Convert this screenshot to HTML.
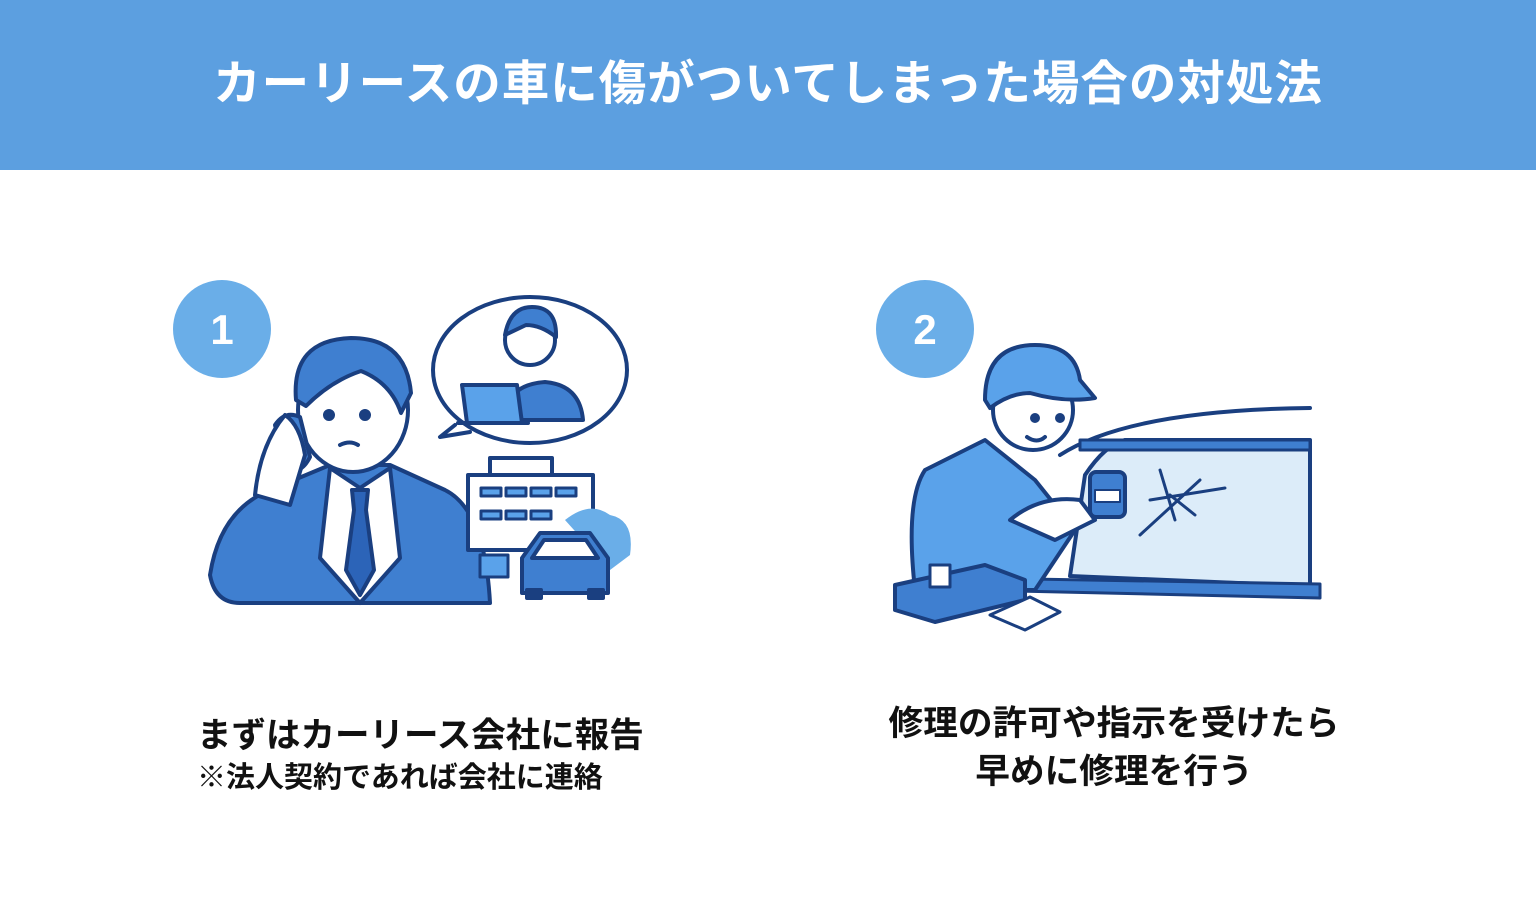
<!DOCTYPE html>
<html><head><meta charset="utf-8"><style>
body{margin:0;width:1536px;height:922px;background:#fff;position:relative;overflow:hidden;font-family:"Liberation Sans","Noto Sans CJK JP",sans-serif}
.hd{position:absolute;left:0;top:0;width:1536px;height:170px;background:#5c9fe0;color:#fff;font-weight:700;font-size:47.5px;text-align:center;line-height:170px;letter-spacing:1px}
.t{position:absolute;font-weight:700;color:#111;white-space:nowrap}
svg{position:absolute;left:0;top:0}
</style></head><body>
<div class="hd">カーリースの車に傷がついてしまった場合の対処法</div>
<svg width="1536" height="922" viewBox="0 0 1536 922">
<g stroke="#1a3f80" stroke-width="4" stroke-linejoin="round" stroke-linecap="round">
<ellipse cx="530" cy="370" rx="97" ry="73" fill="#fff"/>
<path d="M455 425 L440 437 L470 432" fill="#fff"/>
<path d="M505 420 q0-35 40-38 q35 3 38 38 z" fill="#3f7fd0"/>
<circle cx="530" cy="340" r="25" fill="#fff"/>
<path d="M505 335 q5-28 27-28 q25 0 24 30 q-15-12-30-12 z" fill="#3f7fd0"/>
<path d="M462 385 h55 l5 38 h-55 z" fill="#5aa2ea"/>
<path d="M458 423 h70" />
<path d="M210 575 q10-65 60-85 l60-25 h60 l55 25 q40 20 45 113 h-250 q-25 0-30-28 z" fill="#3f7fd0"/>
<path d="M330 468 l30 20 l30-20 l10 90 l-40 45 l-40-45 z" fill="#fff"/>
<path d="M352 490 h16 l-2 20 l8 60 l-14 25 l-14-25 l8-60 z" fill="#2c64b8"/>
<ellipse cx="353" cy="410" rx="55" ry="62" fill="#fff"/>
<path d="M296 400 q-5-60 55-62 q55 0 60 55 l-10 20 q-10-30-40-42 q-30 10-55 35 z" fill="#3f7fd0"/>
<circle cx="329" cy="415" r="4" fill="#1a3f80"/><circle cx="365" cy="415" r="4" fill="#1a3f80"/>
<path d="M340 445 q10-5 18 0" fill="none"/>
<path d="M275 425 q10-15 25-8 l10 40 q-10 20-25 10 z" fill="#3f7fd0"/>
<path d="M255 495 q5-50 30-80 q15 10 20 40 l-15 50 z" fill="#fff"/>
<path d="M468 475 h125 v75 h-125 z M490 458 h62 v17 h-62 z" fill="#fff"/>
<g fill="#5aa2ea" stroke-width="3"><rect x="481" y="488" width="20" height="8"/><rect x="506" y="488" width="20" height="8"/><rect x="531" y="488" width="20" height="8"/><rect x="556" y="488" width="20" height="8"/>
<rect x="481" y="511" width="20" height="8"/><rect x="506" y="511" width="20" height="8"/><rect x="531" y="511" width="20" height="8"/></g>
<path d="M565 520 q25-20 45-5 q25 5 20 40 l-20 15 z" fill="#6aaee8" stroke="none"/>
<rect x="480" y="555" width="28" height="22" fill="#5aa2ea" stroke-width="3"/>
<path d="M522 558 l18-25 h50 l18 25 v35 h-86 z" fill="#3f7fd0"/>
<path d="M532 558 l12-18 h42 l12 18 z" fill="#fff"/>
<rect x="527" y="590" width="14" height="8" fill="#1a3f80"/><rect x="589" y="590" width="14" height="8" fill="#1a3f80"/>
<path d="M1060 455 q70-45 250-47" fill="none"/>
<path d="M1085 475 q20-30 40-35 h185 v146 l-240-10 z" fill="#dcecf9"/>
<path d="M1080 440 h230 v10 h-230 z" fill="#3f7fd0" stroke-width="3"/>
<path d="M975 578 l345 6 v14 l-345-8 z" fill="#3f7fd0" stroke-width="3"/>
<g stroke-width="3"><path d="M1140 535 L1200 480 M1160 470 L1175 520 M1150 500 L1225 488 M1170 495 L1195 515"/></g>
<path d="M915 590 q-10-90 10-120 l60-30 l50 40 l40 50 l-40 60 z" fill="#5aa2ea"/>
<circle cx="1033" cy="410" r="40" fill="#fff"/>
<path d="M985 400 q0-55 50-55 q40 0 45 35 l15 18 q-30 5-65-5 q-20 0-40 15 z" fill="#5aa2ea"/>
<circle cx="1035" cy="418" r="3" fill="#1a3f80"/><circle cx="1060" cy="418" r="3" fill="#1a3f80"/>
<path d="M1027 437 q10 7 18 0" fill="none"/>
<path d="M1010 520 q30-25 70-20 l15 20 l-40 20 z" fill="#fff"/>
<rect x="1090" y="472" width="35" height="45" rx="6" fill="#3f7fd0"/>
<rect x="1095" y="490" width="25" height="12" fill="#fff" stroke-width="2"/>
<path d="M895 585 l90-20 l40 15 v20 l-90 22 l-40-12 z" fill="#3f7fd0"/>
<rect x="930" y="565" width="20" height="22" fill="#fff" stroke-width="3"/>
<path d="M990 615 l40-18 l30 15 l-35 18 z" fill="#fff" stroke-width="3"/>
</g>
<circle cx="222" cy="329" r="49" fill="#6aaee8"/>
<circle cx="925" cy="329" r="49" fill="#6aaee8"/>
<text x="222" y="344" fill="#fff" font-size="42" font-weight="700" text-anchor="middle" font-family="Liberation Sans,sans-serif">1</text>
<text x="925" y="344" fill="#fff" font-size="42" font-weight="700" text-anchor="middle" font-family="Liberation Sans,sans-serif">2</text>
</svg>
<div class="t" style="left:197px;top:707px;font-size:34.5px">まずはカーリース会社に報告</div>
<div class="t" style="left:197px;top:754px;font-size:29px">※法人契約であれば会社に連絡</div>
<div class="t" style="left:814px;width:600px;text-align:center;top:700px;font-size:34.7px;line-height:48px">修理の許可や指示を受けたら<br>早めに修理を行う</div>
</body></html>
